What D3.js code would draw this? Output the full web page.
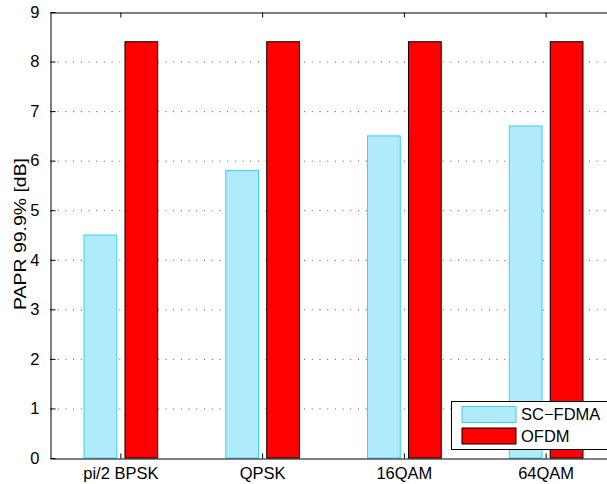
<!DOCTYPE html>
<html>
<head>
<meta charset="utf-8">
<script src="https://cdn.jsdelivr.net/npm/d3@7"></script>
<style>
  body { margin: 0; background: #fff; }
  svg { display: block; font-family: "Liberation Sans", Arial, sans-serif; }
</style>
</head>
<body>
<svg id="chart" width="607" height="484"></svg>
<script>
var categories = ['pi/2 BPSK', 'QPSK', '16QAM', '64QAM'];
var series = ['SC\u2212FDMA', 'OFDM'];
var scfdma = [4.5, 5.8, 6.5, 6.7];
var ofdm = [8.4, 8.4, 8.4, 8.4];
var yTicks = [0, 1, 2, 3, 4, 5, 6, 7, 8, 9];

var fills = ['#b0ebfb', '#ff0000'];
var strokes = ['#3fcdf4', '#000000'];

var vLeft = 50, vTop = 12, vBottom = 458, vRight = 617;
var vFont = '16.5px';

var svg = d3.select('#chart');

var x = d3.scaleBand()
    .domain(categories)
    .range([vLeft, vRight])
    .paddingInner(0).paddingOuter(0);

var bw = x.bandwidth();
var xSub = d3.scaleBand()
    .domain(series)
    .range([bw * 0.24, bw * 0.76])
    .paddingInner(0.2);

var y = d3.scaleLinear().domain([0, 9]).range([vBottom, vTop]);

// grid lines
svg.append('g')
    .selectAll('line')
    .data(yTicks.filter(function (d) { return d > 0 && d < 9; }))
    .enter().append('line')
    .attr('x1', vLeft).attr('x2', vRight)
    .attr('y1', function (d) { return y(d) + 0.5; })
    .attr('y2', function (d) { return y(d) + 0.5; })
    .style('stroke', '#555')
    .style('stroke-width', 1)
    .style('stroke-dasharray', '1,6.7');

// bars
var rows = categories.map(function (c, i) {
    return {cat: c, values: [scfdma[i], ofdm[i]]};
});

var groups = svg.append('g').selectAll('g')
    .data(rows)
    .enter().append('g')
    .attr('transform', function (d) { return 'translate(' + x(d.cat) + ',0)'; });

groups.selectAll('rect')
    .data(function (d) {
        return d.values.map(function (v, j) { return {s: series[j], v: v, j: j}; });
    })
    .enter().append('rect')
    .attr('x', function (d) { return xSub(d.s); })
    .attr('width', xSub.bandwidth())
    .attr('y', function (d) { return y(d.v); })
    .attr('height', function (d) { return y(0) - y(d.v); })
    .style('fill', function (d) { return fills[d.j]; })
    .style('stroke', function (d) { return strokes[d.j]; })
    .style('stroke-width', 1);

// axes
var yAxis = d3.axisLeft(y).tickValues(yTicks).tickSizeInner(-5).tickSizeOuter(0).tickPadding(11);
var gy = svg.append('g').attr('transform', 'translate(' + (vLeft + 0.5) + ',0)').call(yAxis);
gy.selectAll('text').style('font-size', vFont).style('fill', '#000');
gy.selectAll('line,path').style('stroke', '#000');

var xAxis = d3.axisBottom(x).tickSizeInner(-5).tickSizeOuter(0).tickPadding(9);
var gx = svg.append('g').attr('transform', 'translate(0,' + (vBottom + 0.5) + ')').call(xAxis);
gx.selectAll('text').style('font-size', vFont).style('fill', '#000');
gx.selectAll('line,path').style('stroke', '#000');

var xTop = d3.axisTop(x).tickSizeInner(-5).tickSizeOuter(0).tickFormat('');
var gt = svg.append('g').attr('transform', 'translate(0,' + (vTop + 0.5) + ')').call(xTop);
gt.selectAll('line,path').style('stroke', '#000');

// y label
svg.append('text')
    .attr('transform', 'translate(26,234) rotate(-90)')
    .attr('text-anchor', 'middle')
    .attr('textLength', 152)
    .attr('lengthAdjust', 'spacingAndGlyphs')
    .style('font-size', vFont)
    .text('PAPR 99.9% [dB]');

// legend
var lg = svg.append('g').attr('transform', 'translate(451,401)');
lg.append('rect')
    .attr('x', 0.5).attr('y', 0.5)
    .attr('width', 170).attr('height', 48)
    .style('fill', '#fff').style('stroke', '#000');
series.forEach(function (s, j) {
    lg.append('rect')
        .attr('x', 11).attr('y', 5.5 + j * 21.5)
        .attr('width', 54).attr('height', 16)
        .style('fill', fills[j]).style('stroke', strokes[j]);
    lg.append('text')
        .attr('x', 70).attr('y', 13.5 + j * 21.5)
        .attr('dy', '0.35em')
        .style('font-size', vFont)
        .text(s);
});
</script>
</body>
</html>
